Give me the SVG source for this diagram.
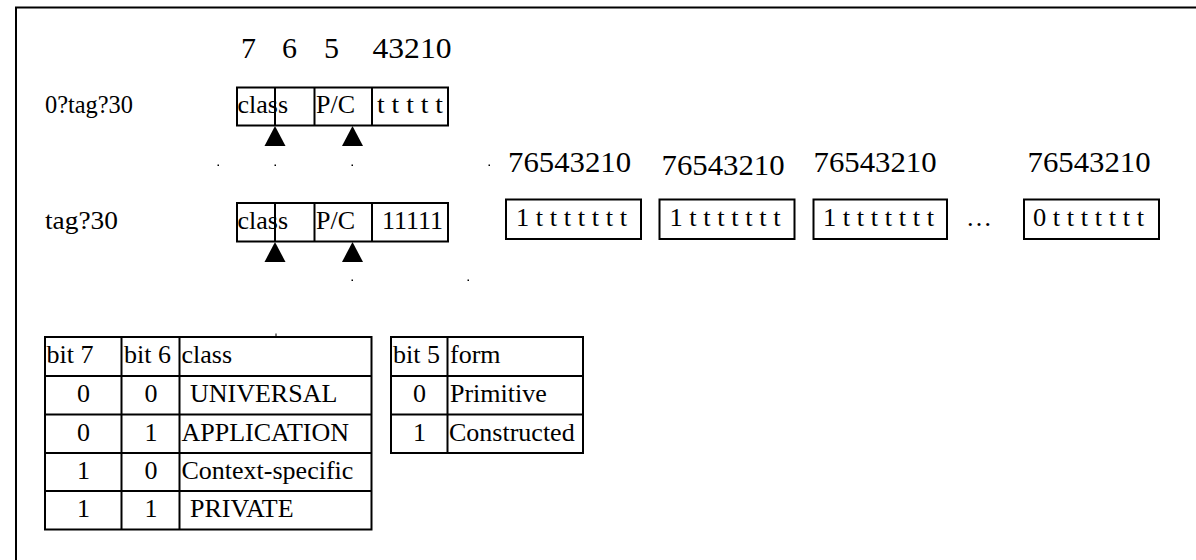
<svg xmlns="http://www.w3.org/2000/svg" width="1196" height="560" viewBox="0 0 1196 560">
<style>
text{font-family:"Liberation Serif","Times New Roman",serif;fill:#000}
.b{fill:none;stroke:#000;stroke-width:2}
.t26{font-size:26px}
.t30{font-size:30px}
.t25{font-size:25px}
.dot{fill:#000}
.c{text-anchor:middle}
</style>
<rect width="1196" height="560" fill="#fff"/>
<path class="b" d="M16,562 V7.5 H1198"/>

<g id="bit-labels">
<text class="t30" x="241" y="58">7</text>
<text class="t30" x="282" y="58">6</text>
<text class="t30" x="324" y="58">5</text>
<text class="t30" x="372.5" y="58" textLength="79" lengthAdjust="spacingAndGlyphs">43210</text>
</g>

<g id="row-short">
<text class="t25" x="45" y="113" textLength="88" lengthAdjust="spacingAndGlyphs">0?tag?30</text>
<rect class="b" x="237" y="87.5" width="211" height="38"/>
<line class="b" x1="275" y1="87.5" x2="275" y2="125.5"/>
<line class="b" x1="314.5" y1="87.5" x2="314.5" y2="125.5"/>
<line class="b" x1="372" y1="87.5" x2="372" y2="125.5"/>
<text class="t26" x="237.5" y="113">class</text>
<text class="t26" x="316" y="113">P/C</text>
<text class="t26" x="377" y="113" textLength="66" lengthAdjust="spacingAndGlyphs">t t t t t</text>
</g>

<g id="row-long">
<text class="t26" x="45" y="229" textLength="73" lengthAdjust="spacingAndGlyphs">tag?30</text>
<rect class="b" x="237" y="203" width="211" height="38.5"/>
<line class="b" x1="275" y1="203" x2="275" y2="241.5"/>
<line class="b" x1="314.5" y1="203" x2="314.5" y2="241.5"/>
<line class="b" x1="372" y1="203" x2="372" y2="241.5"/>
<text class="t26" x="237.5" y="229">class</text>
<text class="t26" x="316" y="229">P/C</text>
<text class="t26" x="382" y="229" textLength="61" lengthAdjust="spacingAndGlyphs">11111</text>
</g>

<g id="pointers">
<polygon points="275,126 285.5,146 264.5,146"/>
<polygon points="352.5,126 363,146 342,146"/>
<polygon points="275,242 285.5,262 264.5,262"/>
<polygon points="352.5,242 363,262 342,262"/>
</g>

<g id="dots">
<rect class="dot" x="217.5" y="164.5" width="1.5" height="1.5"/>
<rect class="dot" x="274.5" y="164.5" width="1.5" height="1.5"/>
<rect class="dot" x="351.5" y="164.5" width="1.5" height="1.5"/>
<rect class="dot" x="488.5" y="164.5" width="1.5" height="1.5"/>
<rect class="dot" x="351.5" y="279.5" width="1.5" height="1.5"/>
<rect class="dot" x="467.5" y="279.5" width="1.5" height="1.5"/>
<rect class="dot" x="275.5" y="333.5" width="1" height="3"/>
</g>

<g id="octet-1">
<text class="t30" x="508" y="171.5" textLength="123" lengthAdjust="spacingAndGlyphs">76543210</text>
<rect class="b" x="506" y="199.5" width="135" height="39.5"/>
<text class="t26" x="516" y="226" textLength="111" lengthAdjust="spacingAndGlyphs">1 t t t t t t t</text>
</g>
<g id="octet-2">
<text class="t30" x="661.5" y="175" textLength="123" lengthAdjust="spacingAndGlyphs">76543210</text>
<rect class="b" x="659.5" y="199.5" width="135" height="39.5"/>
<text class="t26" x="669.5" y="226" textLength="111" lengthAdjust="spacingAndGlyphs">1 t t t t t t t</text>
</g>
<g id="octet-3">
<text class="t30" x="813.5" y="171.5" textLength="123" lengthAdjust="spacingAndGlyphs">76543210</text>
<rect class="b" x="813.5" y="199.5" width="133.5" height="39.5"/>
<text class="t26" x="823" y="226" textLength="111" lengthAdjust="spacingAndGlyphs">1 t t t t t t t</text>
</g>
<text class="t26" x="966" y="226">…</text>
<g id="octet-last">
<text class="t30" x="1027.5" y="171.5" textLength="123" lengthAdjust="spacingAndGlyphs">76543210</text>
<rect class="b" x="1024" y="199.5" width="135" height="39.5"/>
<text class="t26" x="1033" y="226" textLength="111" lengthAdjust="spacingAndGlyphs">0 t t t t t t t</text>
</g>

<g id="class-table">
<rect class="b" x="45" y="337" width="326.5" height="192.5"/>
<line class="b" x1="45" y1="376" x2="371.5" y2="376"/>
<line class="b" x1="45" y1="414.5" x2="371.5" y2="414.5"/>
<line class="b" x1="45" y1="453" x2="371.5" y2="453"/>
<line class="b" x1="45" y1="491" x2="371.5" y2="491"/>
<line class="b" x1="121.5" y1="337" x2="121.5" y2="529.5"/>
<line class="b" x1="179.5" y1="337" x2="179.5" y2="529.5"/>
<text class="t26" x="46.5" y="363">bit 7</text>
<text class="t26" x="124" y="363">bit 6</text>
<text class="t26" x="181.5" y="363">class</text>
<text class="t26 c" x="83.5" y="402">0</text>
<text class="t26 c" x="151" y="402">0</text>
<text class="t26" x="190" y="402">UNIVERSAL</text>
<text class="t26 c" x="83.5" y="440.5">0</text>
<text class="t26 c" x="151" y="440.5">1</text>
<text class="t26" x="181.5" y="440.5">APPLICATION</text>
<text class="t26 c" x="83.5" y="479">1</text>
<text class="t26 c" x="151" y="479">0</text>
<text class="t26" x="181.5" y="479">Context-specific</text>
<text class="t26 c" x="83.5" y="517">1</text>
<text class="t26 c" x="151" y="517">1</text>
<text class="t26" x="190" y="517">PRIVATE</text>
</g>

<g id="form-table">
<rect class="b" x="391" y="337" width="192" height="116"/>
<line class="b" x1="391" y1="376" x2="583" y2="376"/>
<line class="b" x1="391" y1="414.5" x2="583" y2="414.5"/>
<line class="b" x1="447.5" y1="337" x2="447.5" y2="453"/>
<text class="t26" x="393" y="363">bit 5</text>
<text class="t26" x="450" y="363">form</text>
<text class="t26 c" x="419.5" y="402">0</text>
<text class="t26" x="450" y="402">Primitive</text>
<text class="t26 c" x="419.5" y="440.5">1</text>
<text class="t26" x="449" y="440.5">Constructed</text>
</g>
</svg>
